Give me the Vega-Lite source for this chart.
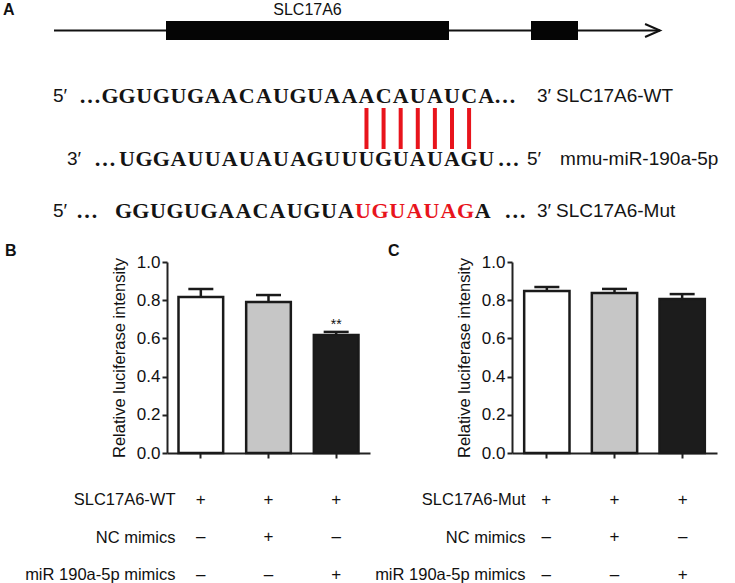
{
  "$schema": "https://vega.github.io/schema/vega-lite/v6.json",
  "padding": 0,
  "background": "#ffffff",
  "bounds": "flush",
  "spacing": 0,
  "resolve": {"scale": {"x": "independent", "y": "independent"}},
  "config": {
    "font": "Liberation Sans",
    "view": {"stroke": null},
    "axis": {"labelColor": "#111111", "titleColor": "#111111", "domainColor": "#222222", "tickColor": "#222222", "labelFont": "Liberation Sans", "titleFont": "Liberation Sans", "labelOverlap": false},
    "title": {"color": "#111111", "font": "Liberation Sans"}
  },
  "datasets": {
    "transcript": [{"gene": "SLC17A6", "start": 0, "end": 60600}],
    "exons": [
      {"gene": "SLC17A6", "exon": 1, "start": 11200, "end": 39500},
      {"gene": "SLC17A6", "exon": 2, "start": 47700, "end": 52400}
    ],
    "pairs": [
      {"col": 16, "target": "A", "mirna": "U"},
      {"col": 17, "target": "C", "mirna": "G"},
      {"col": 18, "target": "A", "mirna": "U"},
      {"col": 19, "target": "U", "mirna": "A"},
      {"col": 20, "target": "A", "mirna": "U"},
      {"col": 21, "target": "U", "mirna": "A"},
      {"col": 22, "target": "C", "mirna": "G"}
    ],
    "seq": [
      {"line": "WT", "col": -0.17, "token": "…", "mutated": "no"},
      {"line": "WT", "col": 1, "token": "G", "mutated": "no"},
      {"line": "WT", "col": 2, "token": "G", "mutated": "no"},
      {"line": "WT", "col": 3, "token": "U", "mutated": "no"},
      {"line": "WT", "col": 4, "token": "G", "mutated": "no"},
      {"line": "WT", "col": 5, "token": "U", "mutated": "no"},
      {"line": "WT", "col": 6, "token": "G", "mutated": "no"},
      {"line": "WT", "col": 7, "token": "A", "mutated": "no"},
      {"line": "WT", "col": 8, "token": "A", "mutated": "no"},
      {"line": "WT", "col": 9, "token": "C", "mutated": "no"},
      {"line": "WT", "col": 10, "token": "A", "mutated": "no"},
      {"line": "WT", "col": 11, "token": "U", "mutated": "no"},
      {"line": "WT", "col": 12, "token": "G", "mutated": "no"},
      {"line": "WT", "col": 13, "token": "U", "mutated": "no"},
      {"line": "WT", "col": 14, "token": "A", "mutated": "no"},
      {"line": "WT", "col": 15, "token": "A", "mutated": "no"},
      {"line": "WT", "col": 16, "token": "A", "mutated": "no"},
      {"line": "WT", "col": 17, "token": "C", "mutated": "no"},
      {"line": "WT", "col": 18, "token": "A", "mutated": "no"},
      {"line": "WT", "col": 19, "token": "U", "mutated": "no"},
      {"line": "WT", "col": 20, "token": "A", "mutated": "no"},
      {"line": "WT", "col": 21, "token": "U", "mutated": "no"},
      {"line": "WT", "col": 22, "token": "C", "mutated": "no"},
      {"line": "WT", "col": 23, "token": "A", "mutated": "no"},
      {"line": "WT", "col": 24.1, "token": "…", "mutated": "no"},
      {"line": "miR", "col": 0.71, "token": "…", "mutated": "no"},
      {"line": "miR", "col": 2, "token": "U", "mutated": "no"},
      {"line": "miR", "col": 3, "token": "G", "mutated": "no"},
      {"line": "miR", "col": 4, "token": "G", "mutated": "no"},
      {"line": "miR", "col": 5, "token": "A", "mutated": "no"},
      {"line": "miR", "col": 6, "token": "U", "mutated": "no"},
      {"line": "miR", "col": 7, "token": "U", "mutated": "no"},
      {"line": "miR", "col": 8, "token": "A", "mutated": "no"},
      {"line": "miR", "col": 9, "token": "U", "mutated": "no"},
      {"line": "miR", "col": 10, "token": "A", "mutated": "no"},
      {"line": "miR", "col": 11, "token": "U", "mutated": "no"},
      {"line": "miR", "col": 12, "token": "A", "mutated": "no"},
      {"line": "miR", "col": 13, "token": "G", "mutated": "no"},
      {"line": "miR", "col": 14, "token": "U", "mutated": "no"},
      {"line": "miR", "col": 15, "token": "U", "mutated": "no"},
      {"line": "miR", "col": 16, "token": "U", "mutated": "no"},
      {"line": "miR", "col": 17, "token": "G", "mutated": "no"},
      {"line": "miR", "col": 18, "token": "U", "mutated": "no"},
      {"line": "miR", "col": 19, "token": "A", "mutated": "no"},
      {"line": "miR", "col": 20, "token": "U", "mutated": "no"},
      {"line": "miR", "col": 21, "token": "A", "mutated": "no"},
      {"line": "miR", "col": 22, "token": "G", "mutated": "no"},
      {"line": "miR", "col": 23, "token": "U", "mutated": "no"},
      {"line": "miR", "col": 24.3, "token": "…", "mutated": "no"},
      {"line": "Mut", "col": -0.34, "token": "…", "mutated": "no"},
      {"line": "Mut", "col": 1.8, "token": "G", "mutated": "no"},
      {"line": "Mut", "col": 2.8, "token": "G", "mutated": "no"},
      {"line": "Mut", "col": 3.8, "token": "U", "mutated": "no"},
      {"line": "Mut", "col": 4.8, "token": "G", "mutated": "no"},
      {"line": "Mut", "col": 5.8, "token": "U", "mutated": "no"},
      {"line": "Mut", "col": 6.8, "token": "G", "mutated": "no"},
      {"line": "Mut", "col": 7.8, "token": "A", "mutated": "no"},
      {"line": "Mut", "col": 8.8, "token": "A", "mutated": "no"},
      {"line": "Mut", "col": 9.8, "token": "C", "mutated": "no"},
      {"line": "Mut", "col": 10.8, "token": "A", "mutated": "no"},
      {"line": "Mut", "col": 11.8, "token": "U", "mutated": "no"},
      {"line": "Mut", "col": 12.8, "token": "G", "mutated": "no"},
      {"line": "Mut", "col": 13.8, "token": "U", "mutated": "no"},
      {"line": "Mut", "col": 14.8, "token": "A", "mutated": "no"},
      {"line": "Mut", "col": 15.8, "token": "U", "mutated": "yes"},
      {"line": "Mut", "col": 16.8, "token": "G", "mutated": "yes"},
      {"line": "Mut", "col": 17.8, "token": "U", "mutated": "yes"},
      {"line": "Mut", "col": 18.8, "token": "A", "mutated": "yes"},
      {"line": "Mut", "col": 19.8, "token": "U", "mutated": "yes"},
      {"line": "Mut", "col": 20.8, "token": "A", "mutated": "yes"},
      {"line": "Mut", "col": 21.8, "token": "G", "mutated": "yes"},
      {"line": "Mut", "col": 22.8, "token": "A", "mutated": "no"},
      {"line": "Mut", "col": 24.7, "token": "…", "mutated": "no"}
    ],
    "ends": [
      {"line": "WT", "col": -2.33, "text": "5′"},
      {"line": "WT", "col": 25.97, "text": "3′"},
      {"line": "WT", "col": 27.08, "text": "SLC17A6-WT"},
      {"line": "miR", "col": -1.51, "text": "3′"},
      {"line": "miR", "col": 25.39, "text": "5′"},
      {"line": "miR", "col": 27.32, "text": "mmu-miR-190a-5p"},
      {"line": "Mut", "col": -2.33, "text": "5′"},
      {"line": "Mut", "col": 25.97, "text": "3′"},
      {"line": "Mut", "col": 27.08, "text": "SLC17A6-Mut"}
    ],
    "wt": [
      {"treatment": "Control", "mean": 0.817, "sem": 0.042, "sig": ""},
      {"treatment": "NC mimics", "mean": 0.79, "sem": 0.037, "sig": ""},
      {"treatment": "miR-190a-5p mimics", "mean": 0.618, "sem": 0.016, "sig": "**"}
    ],
    "mut": [
      {"treatment": "Control", "mean": 0.848, "sem": 0.021, "sig": ""},
      {"treatment": "NC mimics", "mean": 0.838, "sem": 0.021, "sig": ""},
      {"treatment": "miR-190a-5p mimics", "mean": 0.806, "sem": 0.026, "sig": ""}
    ],
    "tableWT": [
      {"treatment": "Control", "factor": "SLC17A6-WT", "sign": "+"},
      {"treatment": "NC mimics", "factor": "SLC17A6-WT", "sign": "+"},
      {"treatment": "miR-190a-5p mimics", "factor": "SLC17A6-WT", "sign": "+"},
      {"treatment": "Control", "factor": "NC mimics", "sign": "–"},
      {"treatment": "NC mimics", "factor": "NC mimics", "sign": "+"},
      {"treatment": "miR-190a-5p mimics", "factor": "NC mimics", "sign": "–"},
      {"treatment": "Control", "factor": "miR 190a-5p mimics", "sign": "–"},
      {"treatment": "NC mimics", "factor": "miR 190a-5p mimics", "sign": "–"},
      {"treatment": "miR-190a-5p mimics", "factor": "miR 190a-5p mimics", "sign": "+"}
    ],
    "tableMut": [
      {"treatment": "Control", "factor": "SLC17A6-Mut", "sign": "+"},
      {"treatment": "NC mimics", "factor": "SLC17A6-Mut", "sign": "+"},
      {"treatment": "miR-190a-5p mimics", "factor": "SLC17A6-Mut", "sign": "+"},
      {"treatment": "Control", "factor": "NC mimics", "sign": "–"},
      {"treatment": "NC mimics", "factor": "NC mimics", "sign": "+"},
      {"treatment": "miR-190a-5p mimics", "factor": "NC mimics", "sign": "–"},
      {"treatment": "Control", "factor": "miR 190a-5p mimics", "sign": "–"},
      {"treatment": "NC mimics", "factor": "miR 190a-5p mimics", "sign": "–"},
      {"treatment": "miR-190a-5p mimics", "factor": "miR 190a-5p mimics", "sign": "+"}
    ]
  },
  "vconcat": [
    {
      "width": 735,
      "height": 40,
      "layer": [
        {
          "data": {"name": "transcript"},
          "mark": {"type": "rule", "strokeWidth": 2, "color": "#111111"},
          "encoding": {
            "x": {"field": "start", "type": "quantitative", "scale": {"domain": [-5400, 68100], "nice": false, "zero": false}, "axis": null},
            "x2": {"field": "end"},
            "y": {"datum": "gene", "type": "nominal", "scale": {"type": "band", "domain": ["label", "gene"], "paddingInner": 0.095, "paddingOuter": 0}, "axis": null}
          }
        },
        {
          "data": {"name": "transcript"},
          "mark": {"type": "point", "shape": "M-2.3,-1L0,0L-2.3,1", "filled": false, "size": 169, "strokeWidth": 2, "color": "#111111", "opacity": 1},
          "encoding": {
            "x": {"field": "end", "type": "quantitative"},
            "y": {"datum": "gene", "type": "nominal"}
          }
        },
        {
          "data": {"name": "exons"},
          "mark": {"type": "rect", "color": "#050505"},
          "encoding": {
            "x": {"field": "start", "type": "quantitative"},
            "x2": {"field": "end"},
            "y": {"datum": "gene", "type": "nominal"}
          }
        },
        {
          "data": {"name": "exons"},
          "transform": [{"filter": "datum.exon === 1"}, {"calculate": "(datum.start + datum.end) / 2", "as": "mid"}],
          "mark": {"type": "text", "fontSize": 16, "color": "#111111"},
          "encoding": {
            "x": {"field": "mid", "type": "quantitative"},
            "y": {"datum": "label", "type": "nominal"},
            "text": {"field": "gene"}
          }
        },
        {
          "data": {"values": [{"panel": "A"}]},
          "mark": {"type": "text", "align": "left", "dx": 3, "fontSize": 16, "fontWeight": "bold", "color": "#111111"},
          "encoding": {
            "x": {"datum": -5400, "type": "quantitative"},
            "y": {"datum": "label", "type": "nominal"},
            "text": {"field": "panel"}
          }
        }
      ]
    },
    {
      "width": 735,
      "height": 222,
      "layer": [
        {
          "data": {"name": "pairs"},
          "mark": {"type": "rule", "color": "#e8141c", "strokeWidth": 4, "yOffset": 11.5, "y2Offset": -5},
          "encoding": {
            "x": {"field": "col", "type": "quantitative", "scale": {"domain": [-5.43, 37.55], "nice": false, "zero": false}, "axis": null},
            "y": {"datum": "WT", "type": "nominal", "scale": {"type": "point", "domain": ["WT", "miR", "Mut"], "padding": 0.9304, "align": 0.528}, "axis": null},
            "y2": {"datum": "miR"}
          }
        },
        {
          "data": {"name": "seq"},
          "transform": [{"filter": "datum.line !== 'miR'"}],
          "mark": {"type": "text", "font": "Liberation Serif", "fontWeight": "bold", "fontSize": 22},
          "encoding": {
            "x": {"field": "col", "type": "quantitative"},
            "y": {"field": "line", "type": "nominal"},
            "text": {"field": "token"},
            "color": {"field": "mutated", "type": "nominal", "scale": {"domain": ["no", "yes"], "range": ["#141414", "#e8141c"]}, "legend": null}
          }
        },
        {
          "data": {"name": "seq"},
          "transform": [{"filter": "datum.line === 'miR'"}],
          "mark": {"type": "text", "font": "Liberation Serif", "fontWeight": "bold", "fontSize": 22, "yOffset": 5.5},
          "encoding": {
            "x": {"field": "col", "type": "quantitative"},
            "y": {"field": "line", "type": "nominal"},
            "text": {"field": "token"},
            "color": {"field": "mutated", "type": "nominal", "legend": null}
          }
        },
        {
          "data": {"name": "ends"},
          "transform": [{"filter": "datum.line !== 'miR'"}],
          "mark": {"type": "text", "align": "left", "fontSize": 19, "color": "#141414"},
          "encoding": {
            "x": {"field": "col", "type": "quantitative"},
            "y": {"field": "line", "type": "nominal"},
            "text": {"field": "text"}
          }
        },
        {
          "data": {"name": "ends"},
          "transform": [{"filter": "datum.line === 'miR'"}],
          "mark": {"type": "text", "align": "left", "fontSize": 19, "color": "#141414", "yOffset": 5.5},
          "encoding": {
            "x": {"field": "col", "type": "quantitative"},
            "y": {"field": "line", "type": "nominal"},
            "text": {"field": "text"}
          }
        }
      ]
    },
    {
      "spacing": 0,
      "bounds": "flush",
      "resolve": {"scale": {"x": "independent", "y": "independent"}},
      "hconcat": [
        {
          "width": 167,
          "height": 191,
          "data": {"values": [{}]},
          "mark": {"type": "text"},
          "encoding": {"text": {"value": ""}},
          "title": {"text": "B", "anchor": "start", "frame": "group", "fontSize": 16, "fontWeight": "bold", "dx": 5, "offset": 3}
        },
        {
          "width": 203,
          "height": 191,
          "data": {"name": "wt"},
          "transform": [{"calculate": "datum.mean + datum.sem", "as": "upper"}],
          "encoding": {
            "x": {"field": "treatment", "type": "nominal", "scale": {"domain": ["Control", "NC mimics", "miR-190a-5p mimics"], "paddingInner": 0.34, "paddingOuter": 0.17}, "axis": {"title": null, "labels": false, "ticks": true, "tickSize": 5, "tickWidth": 2, "domainWidth": 2, "grid": false}}
          },
          "layer": [
            {
              "mark": {"type": "bar", "stroke": "#1a1a1a", "strokeWidth": 2.5},
              "encoding": {
                "y": {"field": "mean", "type": "quantitative", "scale": {"domain": [0, 1]}, "axis": {"title": "Relative luciferase intensity", "values": [0, 0.2, 0.4, 0.6, 0.8, 1], "tickCount": 6, "labelOverlap": false, "labelBound": false, "format": ".1f", "labelFontSize": 17, "titleFontSize": 16.5, "titleFontWeight": "normal", "tickSize": 5, "tickWidth": 2, "domainWidth": 2, "labelPadding": 2, "titlePadding": 9, "grid": false}},
                "fill": {"field": "treatment", "type": "nominal", "scale": {"domain": ["Control", "NC mimics", "miR-190a-5p mimics"], "range": ["#ffffff", "#c6c6c6", "#1c1c1c"]}, "legend": null}
              }
            },
            {
              "mark": {"type": "rule", "strokeWidth": 2.5, "color": "#1a1a1a"},
              "encoding": {"y": {"field": "mean", "type": "quantitative"}, "y2": {"field": "upper"}}
            },
            {
              "mark": {"type": "tick", "thickness": 2.5, "size": 25, "color": "#1a1a1a", "opacity": 1},
              "encoding": {"y": {"field": "upper", "type": "quantitative"}}
            },
            {
              "mark": {"type": "text", "fontSize": 14, "baseline": "alphabetic", "dy": -3, "color": "#111111"},
              "encoding": {"y": {"field": "upper", "type": "quantitative"}, "text": {"field": "sig"}}
            }
          ]
        },
        {
          "width": 142,
          "height": 191,
          "data": {"values": [{}]},
          "mark": {"type": "text"},
          "encoding": {"text": {"value": ""}},
          "title": {"text": "C", "anchor": "start", "frame": "group", "fontSize": 16, "fontWeight": "bold", "dx": 18, "offset": 3}
        },
        {
          "width": 205,
          "height": 191,
          "data": {"name": "mut"},
          "transform": [{"calculate": "datum.mean + datum.sem", "as": "upper"}],
          "encoding": {
            "x": {"field": "treatment", "type": "nominal", "scale": {"domain": ["Control", "NC mimics", "miR-190a-5p mimics"], "paddingInner": 0.33, "paddingOuter": 0.18}, "axis": {"title": null, "labels": false, "ticks": true, "tickSize": 5, "tickWidth": 2, "domainWidth": 2, "grid": false}}
          },
          "layer": [
            {
              "mark": {"type": "bar", "stroke": "#1a1a1a", "strokeWidth": 2.5},
              "encoding": {
                "y": {"field": "mean", "type": "quantitative", "scale": {"domain": [0, 1]}, "axis": {"title": "Relative luciferase intensity", "values": [0, 0.2, 0.4, 0.6, 0.8, 1], "tickCount": 6, "labelOverlap": false, "labelBound": false, "format": ".1f", "labelFontSize": 17, "titleFontSize": 16.5, "titleFontWeight": "normal", "tickSize": 5, "tickWidth": 2, "domainWidth": 2, "labelPadding": 2, "titlePadding": 9, "grid": false}},
                "fill": {"field": "treatment", "type": "nominal", "scale": {"domain": ["Control", "NC mimics", "miR-190a-5p mimics"], "range": ["#ffffff", "#c6c6c6", "#1c1c1c"]}, "legend": null}
              }
            },
            {
              "mark": {"type": "rule", "strokeWidth": 2.5, "color": "#1a1a1a"},
              "encoding": {"y": {"field": "mean", "type": "quantitative"}, "y2": {"field": "upper"}}
            },
            {
              "mark": {"type": "tick", "thickness": 2.5, "size": 25, "color": "#1a1a1a", "opacity": 1},
              "encoding": {"y": {"field": "upper", "type": "quantitative"}}
            }
          ]
        }
      ]
    },
    {
      "width": 735,
      "height": 191,
      "data": {"values": [{}]},
      "mark": {"type": "text"},
      "encoding": {"text": {"value": ""}}
    },
    {
      "spacing": 0,
      "bounds": "flush",
      "resolve": {"scale": {"x": "independent", "y": "independent"}},
      "hconcat": [
        {
          "width": 167,
          "height": 130,
          "data": {"values": [{}]},
          "mark": {"type": "text"},
          "encoding": {"text": {"value": ""}}
        },
        {
          "width": 203,
          "height": 130,
          "data": {"name": "tableWT"},
          "mark": {"type": "text", "fontSize": 17, "color": "#111111"},
          "encoding": {
            "x": {"field": "treatment", "type": "nominal", "scale": {"domain": ["Control", "NC mimics", "miR-190a-5p mimics"], "paddingInner": 0.34, "paddingOuter": 0.17}, "axis": null},
            "y": {"field": "factor", "type": "nominal", "scale": {"type": "point", "domain": ["SLC17A6-WT", "NC mimics", "miR 190a-5p mimics"], "padding": 0.7333, "align": 0.8545}, "axis": {"title": null, "domain": false, "ticks": false, "tickSize": 0, "labelPadding": -8, "labelFontSize": 16.5, "grid": false}},
            "text": {"field": "sign"}
          }
        },
        {
          "width": 142,
          "height": 130,
          "data": {"values": [{}]},
          "mark": {"type": "text"},
          "encoding": {"text": {"value": ""}}
        },
        {
          "width": 205,
          "height": 130,
          "data": {"name": "tableMut"},
          "mark": {"type": "text", "fontSize": 17, "color": "#111111"},
          "encoding": {
            "x": {"field": "treatment", "type": "nominal", "scale": {"domain": ["Control", "NC mimics", "miR-190a-5p mimics"], "paddingInner": 0.33, "paddingOuter": 0.18}, "axis": null},
            "y": {"field": "factor", "type": "nominal", "scale": {"type": "point", "domain": ["SLC17A6-Mut", "NC mimics", "miR 190a-5p mimics"], "padding": 0.7333, "align": 0.8545}, "axis": {"title": null, "domain": false, "ticks": false, "tickSize": 0, "labelPadding": -13, "labelFontSize": 16.5, "grid": false}},
            "text": {"field": "sign"}
          }
        }
      ]
    }
  ]
}
